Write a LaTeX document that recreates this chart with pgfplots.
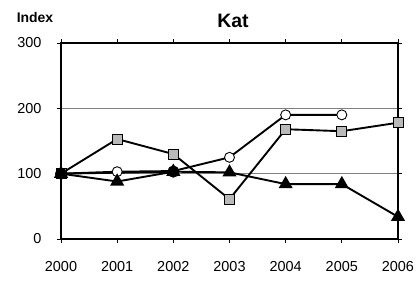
\documentclass[border=0pt]{standalone}
\usepackage{pgfplots}
\pgfplotsset{compat=1.18}
\usepackage{fontspec}
\setmainfont{Liberation Sans}
\begin{document}
\begin{tikzpicture}[x=1bp,y=1bp]
\path[use as bounding box] (-61,-43) rectangle (357,239);
\begin{axis}[
  at={(0,0)}, anchor=south west,
  scale only axis, width=337bp, height=196bp,
  xmin=2000, xmax=2006, ymin=0, ymax=300,
  xtick={2000,...,2006}, ytick={0,100,200,300},
  xticklabel style={/pgf/number format/1000 sep={}, yshift=-15bp},
  yticklabel style={xshift=-12bp},
  /pgf/number format/assume math mode=true,
  ticklabel style={font=\fontsize{14.5}{16}\selectfont},
  tick align=outside, major tick length=4bp,
  tick style={black, line width=0.8pt},
  axis line style={black, line width=1.8pt},
  ymajorgrids, major grid style={gray, line width=0.9pt},
  clip=false,
]
\addplot[black, line width=1.9pt, mark=square*, mark options={fill=lightgray!90!gray, draw=black, line width=0.9pt}, mark size=5bp]
 coordinates {(2000,100) (2001,153) (2002,130) (2003,61) (2004,168) (2005,165) (2006,178)};
\addplot[black, line width=1.9pt, mark=*, mark options={fill=white, draw=black, line width=0.9pt}, mark size=5bp]
 coordinates {(2000,100) (2001,103) (2002,104) (2003,125) (2004,190) (2005,190)};
\addplot[black, line width=1.9pt, mark=triangle*, mark options={fill=black}, mark size=6.3bp]
 coordinates {(2000,100) (2001,88) (2002,103) (2003,102) (2004,84) (2005,84) (2006,34)};
\addplot[black, line width=1.9pt, mark=*, mark options={fill=black}, mark size=5bp]
 coordinates {(2000,100) (2002,103)};
\end{axis}
\node[font=\bfseries\fontsize{19.5}{22}\selectfont] at (172,218) {Kat};
\node[font=\bfseries\fontsize{14}{16}\selectfont] at (-26,221) {Index};
\end{tikzpicture}
\end{document}
